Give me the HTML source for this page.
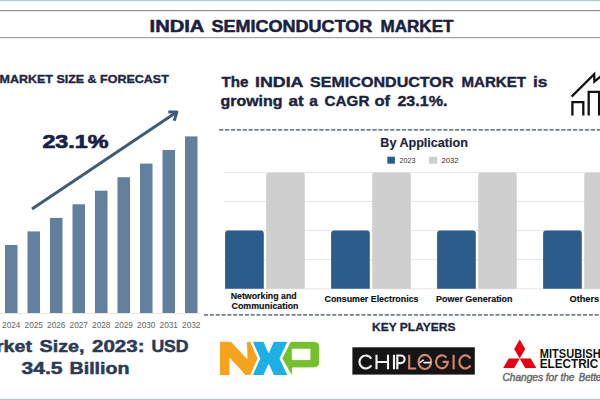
<!DOCTYPE html>
<html><head><meta charset="utf-8">
<style>
html,body{margin:0;padding:0;background:#fff;width:600px;height:400px;overflow:hidden}
svg{display:block}
text{font-family:"Liberation Sans",sans-serif}
</style></head>
<body>
<svg width="600" height="400" viewBox="0 0 600 400">
<rect x="0" y="0" width="600" height="400" fill="#fff"/>
<rect x="0" y="0" width="600" height="1" fill="#b4c8d0"/>
<rect x="0" y="1" width="600" height="2" fill="#eefcff"/>
<rect x="0" y="10" width="600" height="1.2" fill="#8a9095"/>
<rect x="0" y="37" width="600" height="1.2" fill="#a0a4a4"/>
<rect x="0" y="398" width="600" height="1" fill="#eefcff"/>
<rect x="0" y="399" width="600" height="1" fill="#b8c4c4"/>
<g fill="#62809e">
<rect x="5" y="245" width="12.5" height="68"/>
<rect x="27.5" y="231.4" width="12.5" height="81.6"/>
<rect x="50" y="217.9" width="12.5" height="95.1"/>
<rect x="72.5" y="204.3" width="12.5" height="108.7"/>
<rect x="95" y="190.7" width="12.5" height="122.3"/>
<rect x="117.5" y="177.2" width="12.5" height="135.8"/>
<rect x="140" y="163.6" width="12.5" height="149.4"/>
<rect x="162.5" y="150" width="12.5" height="163"/>
<rect x="185" y="136.4" width="12.5" height="176.6"/>
</g>
<rect x="0" y="313" width="201" height="1" fill="#ece8e0"/>
<g font-size="8.3" fill="#666" text-anchor="middle" style="font-family:'Liberation Sans',sans-serif">
<text x="11.25" y="327.5">2024</text>
<text x="33.75" y="327.5">2025</text>
<text x="56.25" y="327.5">2026</text>
<text x="78.75" y="327.5">2027</text>
<text x="101.25" y="327.5">2028</text>
<text x="123.75" y="327.5">2029</text>
<text x="146.25" y="327.5">2030</text>
<text x="168.75" y="327.5">2031</text>
<text x="191.25" y="327.5">2032</text>
</g>

<line x1="32" y1="208.9" x2="176" y2="112.6" stroke="#3e5c78" stroke-width="3"/>
<path d="M168.3 112.1 L176.9 112.1 L174.2 120.8" fill="none" stroke="#3d5d7c" stroke-width="3" stroke-linejoin="round" stroke-linecap="butt"/>
<g fill="none" stroke="#111" stroke-width="2.3" stroke-linejoin="miter">
<path d="M571.6 96.6 L594.2 74.2 L594.4 81.6 L601 76.2"/>
<path d="M572.4 115.6 V102.1 H583.3 V115.6"/>
<path d="M588.7 115.6 V91.8 H599.1 V115.6"/>
</g>
<line x1="219" y1="129.9" x2="600" y2="129.9" stroke="#74828f" stroke-width="1.8" stroke-dasharray="4.3 1.6"/>
<line x1="204" y1="314.9" x2="600" y2="314.9" stroke="#74828f" stroke-width="1.8" stroke-dasharray="4.1 1.73"/>
<rect x="387.3" y="156.7" width="7.6" height="7" fill="#2a5d8c"/>
<rect x="429" y="156.7" width="8.3" height="7" fill="#cfcfcf"/>
<g stroke="#e6e6e6" stroke-width="1">
<line x1="224" y1="172.5" x2="600" y2="172.5"/>
<line x1="224" y1="201.5" x2="600" y2="201.5"/>
<line x1="224" y1="230.5" x2="600" y2="230.5"/>
<line x1="224" y1="259.6" x2="600" y2="259.6"/>
<line x1="224" y1="288.8" x2="600" y2="288.8"/>
</g>
<g fill="#2a5d8c">
<path d="M225.1 288.8 V233.79999999999998 Q225.1 230.6 228.29999999999998 230.6 H260.6 Q263.8 230.6 263.8 233.79999999999998 V288.8 Z"/>
<path d="M331.1 288.8 V233.79999999999998 Q331.1 230.6 334.3 230.6 H366.6 Q369.8 230.6 369.8 233.79999999999998 V288.8 Z"/>
<path d="M437.1 288.8 V233.79999999999998 Q437.1 230.6 440.3 230.6 H472.6 Q475.8 230.6 475.8 233.79999999999998 V288.8 Z"/>
<path d="M543.1 288.8 V233.79999999999998 Q543.1 230.6 546.3000000000001 230.6 H578.6 Q581.8 230.6 581.8 233.79999999999998 V288.8 Z"/>
</g>
<g fill="#cfcfcf">
<path d="M266.2 288.8 V175.7 Q266.2 172.5 269.4 172.5 H301.6 Q304.8 172.5 304.8 175.7 V288.8 Z"/>
<path d="M372.2 288.8 V175.7 Q372.2 172.5 375.4 172.5 H407.6 Q410.8 172.5 410.8 175.7 V288.8 Z"/>
<path d="M478.2 288.8 V175.7 Q478.2 172.5 481.4 172.5 H513.6 Q516.8 172.5 516.8 175.7 V288.8 Z"/>
<path d="M584.2 288.8 V175.7 Q584.2 172.5 587.4000000000001 172.5 H619.6 Q622.8 172.5 622.8 175.7 V288.8 Z"/>
</g>
<g stroke="#fff" stroke-width="1" stroke-linejoin="miter">
<path fill="#f7a21b" d="M219.4 341.3 L231 341.3 L247 358.5 L246.5 341.3 L250.5 341.3 L258 358.5 L250.5 375.5 L245.5 375.5 L230 358.5 L230 375.5 L219.4 375.5 Z"/>
<path fill="#1cb0e4" d="M252.2 341.3 L263.7 341.3 L268.7 352.5 L273.6 341.3 L288 341.3 L280 358.5 L288 375.5 L273.6 375.5 L268.7 364.6 L263.7 375.5 L252.2 375.5 L259.8 358.5 Z"/>
<path fill="#74c12c" fill-rule="evenodd" d="M290.6 341.3 L313.5 341.3 Q319.8 341.3 319.8 347.6 L319.8 361.6 Q319.8 367.9 313.5 367.9 L292.5 367.9 L292.5 374.5 L291 374.5 L281.8 358.5 Z M292.3 349.2 L309.9 349.2 L309.9 359.6 L292.3 359.6 Z"/>
</g>
<rect x="352.4" y="347.3" width="122.4" height="27.3" fill="#151515"/>
<g fill="none" stroke-width="2.15" stroke-linecap="butt">
<g stroke="#f2f2f2">
<path d="M371.37 358.56 A6.45 6.5 0 1 0 371.37 365.44"/>
<path d="M376.5 354.8 V369.3 M388 354.8 V369.3 M376.5 362 H388"/>
<path d="M394 354.8 V369.3"/>
<path d="M397.3 369.3 V355.5 H400.8 A3.8 3.8 0 0 1 400.8 363.1 H397.3"/>
</g>
<g stroke="#d8866e">
<path d="M409.2 354.8 V368.5 H416.2"/>
<ellipse cx="424.85" cy="361.9" rx="6.3" ry="7.1"/>
<path d="M446.42 357.62 A5.9 6.5 0 1 0 447.80 361.80 L442.7 361.8"/>
<path d="M453.6 354.8 V369.3"/>
<path d="M470.49 358.43 A6.0 6.55 0 1 0 470.49 365.37"/>
</g>
<path d="M420.2 362.4 L423.2 360.2 M424 362.6 H430.2" stroke="#f4f4f4" stroke-width="1.6" stroke-linecap="round"/>
</g>
<g fill="#e60012">
<path d="M519.7 339.5 L525.2 349 L519.7 358.5 L514.2 349 Z"/>
<path d="M519.7 358.5 L508.7 358.5 L503.2 368 L514.2 368 Z"/>
<path d="M519.7 358.5 L530.7 358.5 L536.2 368 L525.2 368 Z"/>
</g>
<text id="t1" x="149.60" y="32.00" font-size="15.8" fill="#1a2240" font-weight="bold" textLength="54.80" lengthAdjust="spacingAndGlyphs" stroke="#1a2240" stroke-width="0.5" stroke-linejoin="round">INDIA</text>
<text id="t2" x="211.40" y="32.00" font-size="15.8" fill="#1a2240" font-weight="bold" textLength="161.00" lengthAdjust="spacingAndGlyphs" stroke="#1a2240" stroke-width="0.5" stroke-linejoin="round">SEMICONDUCTOR</text>
<text id="t3" x="380.50" y="32.00" font-size="15.8" fill="#1a2240" font-weight="bold" textLength="73.00" lengthAdjust="spacingAndGlyphs" stroke="#1a2240" stroke-width="0.5" stroke-linejoin="round">MARKET</text>
<text id="h1" x="-0.50" y="83.00" font-size="11.4" fill="#1e2640" font-weight="bold" textLength="169.30" lengthAdjust="spacingAndGlyphs" stroke="#1e2640" stroke-width="0.35" stroke-linejoin="round">MARKET SIZE &amp; FORECAST</text>
<text id="cg" x="42.40" y="148.20" font-size="19.2" fill="#18204a" font-weight="bold" textLength="66.00" lengthAdjust="spacingAndGlyphs" stroke="#18204a" stroke-width="0.7" stroke-linejoin="round">23.1%</text>
<text id="m1" x="-31.30" y="351.50" font-size="16.5" fill="#2c3a58" font-weight="bold" textLength="63.30" lengthAdjust="spacingAndGlyphs" stroke="#2c3a58" stroke-width="0.5" stroke-linejoin="round">Market</text>
<text id="m2" x="39.50" y="351.50" font-size="16.5" fill="#2c3a58" font-weight="bold" textLength="45.10" lengthAdjust="spacingAndGlyphs" stroke="#2c3a58" stroke-width="0.5" stroke-linejoin="round">Size,</text>
<text id="m3" x="92.00" y="351.50" font-size="16.5" fill="#2c3a58" font-weight="bold" textLength="52.60" lengthAdjust="spacingAndGlyphs" stroke="#2c3a58" stroke-width="0.5" stroke-linejoin="round">2023:</text>
<text id="m4" x="151.40" y="351.50" font-size="16.5" fill="#2c3a58" font-weight="bold" textLength="37.20" lengthAdjust="spacingAndGlyphs" stroke="#2c3a58" stroke-width="0.5" stroke-linejoin="round">USD</text>
<text id="b1" x="21.50" y="374.00" font-size="16.5" fill="#2c3a58" font-weight="bold" textLength="41.00" lengthAdjust="spacingAndGlyphs" stroke="#2c3a58" stroke-width="0.5" stroke-linejoin="round">34.5</text>
<text id="b2" x="69.50" y="374.00" font-size="16.5" fill="#2c3a58" font-weight="bold" textLength="60.00" lengthAdjust="spacingAndGlyphs" stroke="#2c3a58" stroke-width="0.5" stroke-linejoin="round">Billion</text>
<text id="r1w0" x="221.50" y="86.70" font-size="15" fill="#1c2440" font-weight="bold" textLength="27.00" lengthAdjust="spacingAndGlyphs" stroke="#1c2440" stroke-width="0.4" stroke-linejoin="round">The</text>
<text id="r1w1" x="255.00" y="86.70" font-size="15" fill="#1c2440" font-weight="bold" textLength="48.50" lengthAdjust="spacingAndGlyphs" stroke="#1c2440" stroke-width="0.4" stroke-linejoin="round">INDIA</text>
<text id="r1w2" x="310.00" y="86.70" font-size="15" fill="#1c2440" font-weight="bold" textLength="143.50" lengthAdjust="spacingAndGlyphs" stroke="#1c2440" stroke-width="0.4" stroke-linejoin="round">SEMICONDUCTOR</text>
<text id="r1w3" x="461.50" y="86.70" font-size="15" fill="#1c2440" font-weight="bold" textLength="64.50" lengthAdjust="spacingAndGlyphs" stroke="#1c2440" stroke-width="0.4" stroke-linejoin="round">MARKET</text>
<text id="r1w4" x="533.00" y="86.70" font-size="15" fill="#1c2440" font-weight="bold" textLength="14.50" lengthAdjust="spacingAndGlyphs" stroke="#1c2440" stroke-width="0.4" stroke-linejoin="round">is</text>
<text id="r2w0" x="220.50" y="106.30" font-size="15" fill="#1c2440" font-weight="bold" textLength="61.90" lengthAdjust="spacingAndGlyphs" stroke="#1c2440" stroke-width="0.4" stroke-linejoin="round">growing</text>
<text id="r2w1" x="288.40" y="106.30" font-size="15" fill="#1c2440" font-weight="bold" textLength="15.20" lengthAdjust="spacingAndGlyphs" stroke="#1c2440" stroke-width="0.4" stroke-linejoin="round">at</text>
<text id="r2w2" x="309.20" y="106.30" font-size="15" fill="#1c2440" font-weight="bold" textLength="8.60" lengthAdjust="spacingAndGlyphs" stroke="#1c2440" stroke-width="0.4" stroke-linejoin="round">a</text>
<text id="r2w3" x="324.60" y="106.30" font-size="15" fill="#1c2440" font-weight="bold" textLength="44.80" lengthAdjust="spacingAndGlyphs" stroke="#1c2440" stroke-width="0.4" stroke-linejoin="round">CAGR</text>
<text id="r2w4" x="374.40" y="106.30" font-size="15" fill="#1c2440" font-weight="bold" textLength="15.60" lengthAdjust="spacingAndGlyphs" stroke="#1c2440" stroke-width="0.4" stroke-linejoin="round">of</text>
<text id="r2w5" x="397.40" y="106.30" font-size="15" fill="#1c2440" font-weight="bold" textLength="50.10" lengthAdjust="spacingAndGlyphs" stroke="#1c2440" stroke-width="0.4" stroke-linejoin="round">23.1%.</text>
<text id="ba" x="380.30" y="147.40" font-size="12.5" fill="#1c2440" font-weight="bold" textLength="87.60" lengthAdjust="spacingAndGlyphs" stroke="#1c2440" stroke-width="0.15" stroke-linejoin="round">By Application</text>
<text id="l1" x="399.60" y="162.70" font-size="6.6" fill="#333" textLength="16.00" lengthAdjust="spacingAndGlyphs">2023</text>
<text id="l2" x="441.50" y="162.70" font-size="6.6" fill="#333" textLength="17.10" lengthAdjust="spacingAndGlyphs">2032</text>
<text id="c1" x="230.70" y="299.00" font-size="8.4" fill="#111" font-weight="bold" textLength="66.00" lengthAdjust="spacingAndGlyphs" stroke="#111" stroke-width="0.15" stroke-linejoin="round">Networking and</text>
<text id="c2" x="231.50" y="309.00" font-size="8.4" fill="#111" font-weight="bold" textLength="67.00" lengthAdjust="spacingAndGlyphs" stroke="#111" stroke-width="0.15" stroke-linejoin="round">Communication</text>
<text id="c3" x="324.50" y="302.40" font-size="8.4" fill="#111" font-weight="bold" textLength="94.00" lengthAdjust="spacingAndGlyphs" stroke="#111" stroke-width="0.15" stroke-linejoin="round">Consumer Electronics</text>
<text id="c4" x="436.10" y="302.40" font-size="8.4" fill="#111" font-weight="bold" textLength="76.40" lengthAdjust="spacingAndGlyphs" stroke="#111" stroke-width="0.15" stroke-linejoin="round">Power Generation</text>
<text id="c5" x="569.50" y="302.40" font-size="8.4" fill="#111" font-weight="bold" textLength="29.60" lengthAdjust="spacingAndGlyphs" stroke="#111" stroke-width="0.15" stroke-linejoin="round">Others</text>
<text id="kp" x="372.00" y="330.80" font-size="11.4" fill="#1c2440" font-weight="bold" textLength="83.40" lengthAdjust="spacingAndGlyphs" stroke="#1c2440" stroke-width="0.3" stroke-linejoin="round">KEY PLAYERS</text>
<text id="mi" x="539.80" y="357.50" font-size="13.5" fill="#111" font-weight="bold" textLength="60.90" lengthAdjust="spacingAndGlyphs">MITSUBISH</text>
<text id="el" x="539.80" y="368.40" font-size="12.8" fill="#111" font-weight="bold" textLength="58.50" lengthAdjust="spacingAndGlyphs">ELECTRIC</text>
<text id="cf" x="502.50" y="380.80" font-size="10" fill="#6a6a6a" font-style="italic" textLength="72.00" lengthAdjust="spacingAndGlyphs" stroke="#6a6a6a" stroke-width="0.45" stroke-linejoin="round">Changes for the</text>
<text id="cf2" x="578.75" y="380.80" font-size="10" fill="#6a6a6a" font-style="italic" textLength="25.60" lengthAdjust="spacingAndGlyphs" stroke="#6a6a6a" stroke-width="0.45" stroke-linejoin="round">Better</text>
</svg>

</body></html>
